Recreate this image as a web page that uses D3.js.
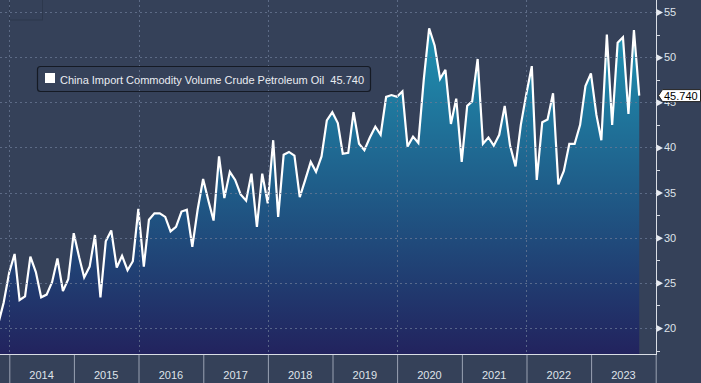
<!DOCTYPE html>
<html><head><meta charset="utf-8">
<script src="https://cdn.jsdelivr.net/npm/d3@7"></script>
<style>
html,body{margin:0;padding:0;background:#354159;}
svg{display:block;}
text{font-family:"Liberation Sans",Arial,sans-serif;}
</style>
</head><body>
<svg id="c" width="701" height="383"></svg>
<script>
// ---- data (monthly, plotted at month end) ----
const startMonth = "2013-10";
const values = [
  20.5, 22.8, 26.1,
  28.2, 23.1, 23.5, 27.9, 26.2, 23.4, 23.7, 25.1, 27.7, 24.1, 25.4, 30.5,
  27.8, 25.6, 26.8, 30.3, 23.4, 29.6, 30.8, 26.7, 28.0, 26.4, 27.4, 33.2,
  26.8, 32.0, 32.7, 32.7, 32.3, 30.7, 31.2, 32.9, 33.1, 29.0, 33.1, 36.5,
  34.0, 31.9, 39.0, 34.4, 37.3, 36.4, 34.8, 34.1, 37.1, 31.2, 37.1, 33.8,
  40.8, 32.3, 39.2, 39.5, 39.1, 34.5, 36.4, 38.4, 37.3, 39.0, 43.0, 43.9,
  42.7, 39.3, 39.4, 43.9, 40.4, 39.7, 41.1, 42.3, 41.4, 45.6, 45.8, 45.6,
  46.2, 40.1, 41.2, 40.5, 47.6, 53.2, 51.3, 47.6, 48.6, 42.6, 45.4, 38.4,
  44.6, 45.1, 49.8, 40.4, 41.1, 40.2, 41.4, 44.6, 40.2, 37.9, 42.5, 45.9,
  49.0, 36.4, 42.8, 43.1, 46.0, 35.9, 37.4, 40.4, 40.4, 42.5, 46.8, 48.2,
  43.6, 40.8, 52.5, 42.5, 51.6, 52.2, 43.7, 53.0, 45.74
];
const yTicks = [20, 25, 30, 35, 40, 45, 50, 55];
const yMinorTicks = [17.5, 22.5, 27.5, 32.5, 37.5, 42.5, 47.5, 52.5];
const yearLabels = ["2014","2015","2016","2017","2018","2019","2020","2021","2022","2023"];
const yearBoundaries = [2014,2015,2016,2017,2018,2019,2020,2021,2022,2023,2024];
const gridYears = [2014, 2016, 2018, 2020, 2022];
const seriesName = "China Import Commodity Volume Crude Petroleum Oil";
const lastValueText = "45.740";

// ---- layout ----
const plotR = 656, plotB = 354;
const svg = d3.select("#c");
const x = d3.scaleTime().domain([new Date(2014,0,1), new Date(2024,0,1)]).range([9.3, 655.7]);
const y = d3.scaleLinear().domain([20, 55]).range([328, 12]);
const parse = d3.timeParse("%Y-%m");
const data = values.map((v, i) => {
  const s = d3.timeMonth.offset(parse(startMonth), i);
  return {date: d3.timeDay.offset(d3.timeMonth.offset(s, 1), -1), value: v};
});

svg.append("rect").attr("width",701).attr("height",383).attr("fill","#354159");

const defs = svg.append("defs");
const grad = defs.append("linearGradient").attr("id","fillg")
  .attr("gradientUnits","userSpaceOnUse").attr("x1",0).attr("y1",20).attr("x2",0).attr("y2",plotB);
grad.append("stop").attr("offset","0%").attr("stop-color","#1f95b4");
grad.append("stop").attr("offset","50%").attr("stop-color","#1f5d89");
grad.append("stop").attr("offset","100%").attr("stop-color","#22235e");
defs.append("clipPath").attr("id","clip").append("rect").attr("x",0).attr("y",0).attr("width",plotR).attr("height",plotB);

// faint box top-left
svg.append("rect").attr("x",9.5).attr("y",-1).attr("width",33).attr("height",21)
  .attr("fill","none").attr("stroke","#2d384d").attr("stroke-width",1);

// area + line
const g = svg.append("g").attr("clip-path","url(#clip)");
g.append("path").datum(data)
  .attr("fill","url(#fillg)")
  .attr("d", d3.area().x(d => x(d.date)).y0(plotB).y1(d => y(d.value)));

// gridlines (drawn over fill)
const grid = svg.append("g");
grid.selectAll("line.h").data(yTicks).join("line")
  .attr("x1",0).attr("x2",plotR).attr("y1",d=>Math.round(y(d))+0.5).attr("y2",d=>Math.round(y(d))+0.5)
  .attr("stroke","#6b7a96").attr("stroke-opacity",0.75).attr("stroke-dasharray","2,3");
grid.selectAll("line.v").data(gridYears).join("line")
  .attr("x1",d=>Math.round(x(new Date(d,0,1)))+0.5).attr("x2",d=>Math.round(x(new Date(d,0,1)))+0.5)
  .attr("y1",0).attr("y2",plotB)
  .attr("stroke","#6b7a96").attr("stroke-opacity",0.75).attr("stroke-dasharray","2,3");

g.append("path").datum(data)
  .attr("fill","none").attr("stroke","#ffffff").attr("stroke-width",2.2)
  .attr("stroke-linejoin","miter").attr("stroke-miterlimit",3)
  .attr("d", d3.line().x(d => x(d.date)).y(d => y(d.value)));

// bottom axis
const xa = svg.append("g").attr("transform",`translate(0,${plotB})`)
  .call(d3.axisBottom(x).tickValues(yearBoundaries.map(yr => new Date(yr,0,1))).tickSize(29).tickFormat(""));
xa.select(".domain").remove();
xa.selectAll(".tick line").attr("stroke","#9aa2b3");
svg.append("line").attr("x1",0).attr("x2",plotR+1).attr("y1",plotB+0.5).attr("y2",plotB+0.5)
  .attr("stroke","#d9dde5").attr("stroke-width",1);
svg.append("g").selectAll("text").data(yearLabels).join("text")
  .attr("x", d => (x(new Date(+d,0,1)) + x(new Date(+d+1,0,1))) / 2)
  .attr("y", 379).attr("text-anchor","middle")
  .attr("font-size", 11).attr("fill","#dfe3ea").text(d => d);

// right axis
svg.append("line").attr("x1",plotR+0.5).attr("x2",plotR+0.5).attr("y1",0).attr("y2",plotB+1)
  .attr("stroke","#d9dde5").attr("stroke-width",1);
const ya = svg.append("g").attr("transform",`translate(${plotR},0)`)
  .call(d3.axisRight(y).tickValues(yTicks).tickSize(0).tickPadding(8).tickFormat(d3.format("d")));
ya.select(".domain").remove();
ya.selectAll(".tick text").attr("font-size",11).attr("fill","#dfe3ea").attr("font-family","'Liberation Sans',Arial,sans-serif");
ya.selectAll(".tick").append("path").attr("d","M0.5,-3.5 L7,0 L0.5,3.5 Z").attr("fill","#e6e9ef");
svg.append("g").selectAll("line").data(yMinorTicks).join("line")
  .attr("x1",plotR).attr("x2",plotR+4)
  .attr("y1",d=>Math.round(y(d))+0.5).attr("y2",d=>Math.round(y(d))+0.5)
  .attr("stroke","#d9dde5");

// last value tag
const last = data[data.length-1];
const ly = y(last.value);
svg.append("path")
  .attr("d", `M${plotR+2.5},${ly} L${plotR+6.5},${ly-6} L700.5,${ly-6} L700.5,${ly+6} L${plotR+6.5},${ly+6} Z`)
  .attr("fill","#ffffff").attr("stroke","#222").attr("stroke-width",1);
svg.append("text").attr("x",plotR+8).attr("y",ly+4).attr("font-size",11).attr("fill","#000").text(lastValueText);

// legend
svg.append("rect").attr("x",37.5).attr("y",66.5).attr("width",333).attr("height",25).attr("rx",3)
  .attr("fill","none").attr("stroke","#151a24").attr("stroke-width",1.2);
svg.append("rect").attr("x",45).attr("y",73).attr("width",10).attr("height",10).attr("fill","#ffffff");
svg.append("text").attr("x",60).attr("y",83.5).attr("font-size",11.5).attr("fill","#e9ecf1")
  .attr("textLength",304).attr("lengthAdjust","spacingAndGlyphs")
  .style("white-space","pre").text(seriesName + "  " + lastValueText);
</script>
</body></html>
